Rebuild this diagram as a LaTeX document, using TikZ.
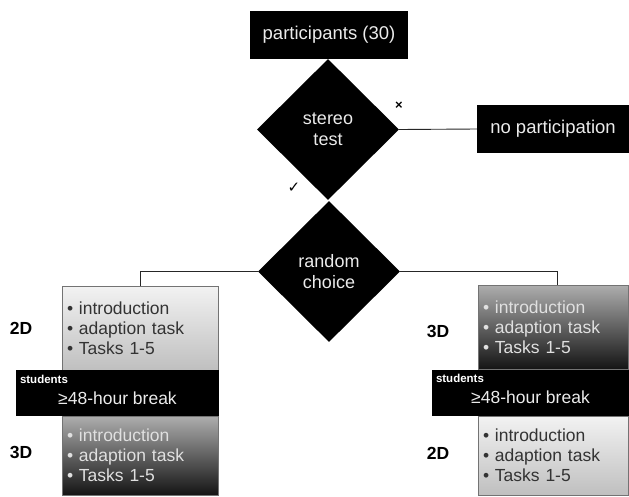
\documentclass[tikz,border=0pt]{standalone}
\usepackage{fontspec}
\setmainfont{Liberation Sans}
\newfontfamily\symfont{DejaVu Sans}
\usetikzlibrary{shapes.geometric,positioning}

\begin{document}
\begin{tikzpicture}[x=1pt,y=-1pt,font=\fontsize{17.5}{20}\selectfont,
  blackbox/.style={rectangle,fill=black,text=white!92!black,inner sep=0pt,font=\fontsize{18.5}{20}\selectfont},
  decision/.style={diamond,fill=black,text=white!92!black,inner sep=0pt,minimum width=142pt,minimum height=141pt,align=center,font=\fontsize{18}{21.5}\selectfont},
  light/.style={rectangle,draw=black!55,top color=black!5,bottom color=black!25,text=black!80,inner sep=5pt,align=left},
  dark/.style={rectangle,draw=black!55,top color=black!32,bottom color=black!92,text=black!12,inner sep=5pt,align=left},
  breakbar/.style={blackbox,font=\fontsize{17.5}{20}\selectfont,minimum height=46pt,text height=24pt,text depth=2pt},
  who/.style={anchor=north west,inner sep=0pt,text=white,font=\fontsize{11.5}{12}\selectfont\bfseries},
  cond/.style={font=\fontsize{17.5}{20}\selectfont\bfseries},
  edge/.style={line width=0.9pt,black!85}]
\useasboundingbox (0,0) rectangle (629,496);

\node(part)[blackbox,minimum width=158pt,minimum height=48pt] at (329,35) {participants (30)};
\node(stereo)[decision] at (328,129.5) {stereo\\test};
\node(nopart)[blackbox,minimum width=152pt,minimum height=48pt] at (553,129) {no participation};
\node(random)[decision] at (329,271.5) {random\\choice};
\node(no)[font=\fontsize{13}{13}\selectfont\bfseries] at (399,106) {×};
\node(yes)[font=\fontsize{15}{15}\selectfont\symfont] at (294,188) {✓};

% left branch: 2D first
\node(ltop)[light,minimum width=156pt,minimum height=84pt,text width=146pt] at (140,328) {\textbullet\ introduction\\\textbullet\ adaption task\\\textbullet\ Tasks 1-5};
\node(lbot)[dark,minimum width=156pt,minimum height=79pt,text width=146pt] at (140,455.5) {\textbullet\ introduction\\\textbullet\ adaption task\\\textbullet\ Tasks 1-5};
\node(lbar)[breakbar,minimum width=203pt] at (117.5,393) {≥48-hour break};
\node[who] at ([xshift=4pt,yshift=-5pt]lbar.north west) {students};
\node(l2d)[cond,left=26pt of ltop] {2D};
\node(l3d)[cond,left=26pt of lbot,yshift=3.5pt] {3D};

% right branch: 3D first
\node(rtop)[dark,minimum width=150pt,minimum height=84pt,text width=140pt] at (553,327) {\textbullet\ introduction\\\textbullet\ adaption task\\\textbullet\ Tasks 1-5};
\node(rbot)[light,minimum width=150pt,minimum height=79pt,text width=140pt] at (553,455.5) {\textbullet\ introduction\\\textbullet\ adaption task\\\textbullet\ Tasks 1-5};
\node(rbar)[breakbar,minimum width=197pt] at (530.5,392.5) {≥48-hour break};
\node[who] at ([xshift=4pt,yshift=-5pt]rbar.north west) {students};
\node(r3d)[cond,left=25pt of rtop,yshift=-4pt] {3D};
\node(r2d)[cond,left=25pt of rbot,yshift=2.5pt] {2D};

\draw [edge] (stereo.east) -- (nopart.west);
\draw [edge] (random.west) -| (ltop.north);
\draw [edge] (random.east) -| ([xshift=4pt]rtop.north);
\end{tikzpicture}
\end{document}
